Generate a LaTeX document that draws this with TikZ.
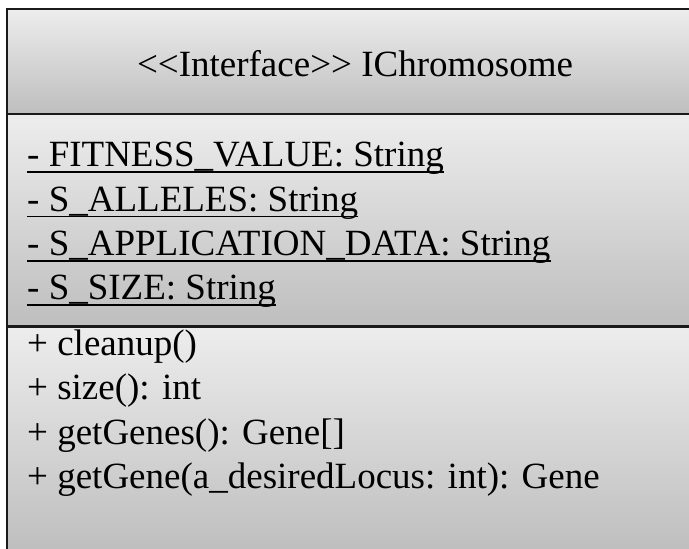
\documentclass[tikz,border=0pt]{standalone}
\usepackage{fontspec}
\setmainfont{Liberation Serif}
\definecolor{gtop}{HTML}{EDEDED}
\definecolor{gbot}{HTML}{BEBEBE}
\definecolor{lineclr}{HTML}{1A1A1A}
\begin{document}
\begin{tikzpicture}[x=1pt,y=-1pt,
  compartment/.style={top color=gtop, bottom color=gbot, draw=none},
  edge/.style={line width=2.2pt, draw=lineclr},
  member/.style={anchor=base west, inner sep=0pt, font=\fontsize{37}{44}\selectfont},
  heading/.style={member, anchor=base},
  uline/.style={line width=1.8pt, draw=black}]
\useasboundingbox (0,0) rectangle (689,549);
\clip (0,0) rectangle (689,549);

% three compartments of the class box, each with its own vertical shading
\shade[compartment] (7,9) rectangle (703,114);
\shade[compartment] (7,114) rectangle (703,326.5);
\shade[compartment] (7,326.5) rectangle (703,552);

% outline and compartment separators
\coordinate (tl) at (7,9);
\coordinate (tr) at (703,9);
\coordinate (bl) at (7,560);
\coordinate (s1l) at (7,114);
\coordinate (s1r) at (703,114);
\coordinate (s2l) at (7,326.5);
\coordinate (s2r) at (703,326.5);
\draw[edge] (bl) -- (tl) -- (tr);
\draw[edge] (s1l) -- (s1r);
\draw[edge] (s2l) -- (s2r);

% class name
\node[heading] (title) at (355,76) {<\kern0pt<Interface>\kern0pt> IChromosome};

% static attributes (underlined)
\node[member] (a1) at (27,166.5) {- FITNESS\_VALUE: String};
\node[member] (a2) at (27,211)   {- S\_ALLELES: String};
\node[member] (a3) at (27,255.4) {- S\_APPLICATION\_DATA: String};
\node[member] (a4) at (27,299.8) {- S\_SIZE: String};
\foreach \n in {a1,a2,a3,a4}
  \draw[uline] ([yshift=-5.5pt]\n.base west) -- ([yshift=-5.5pt]\n.base east);

% operations
\node[member] (m1) at (27,355.5) {+ cleanup()};
\node[member] (m2) at (27,399.9) {+ size(): int};
\node[member] (m3) at (27,444.3) {+ getGenes(): Gene[]};
\node[member] (m4) at (27,488.7) {+ getGene(a\_desiredLocus: int): Gene};
\end{tikzpicture}
\end{document}
